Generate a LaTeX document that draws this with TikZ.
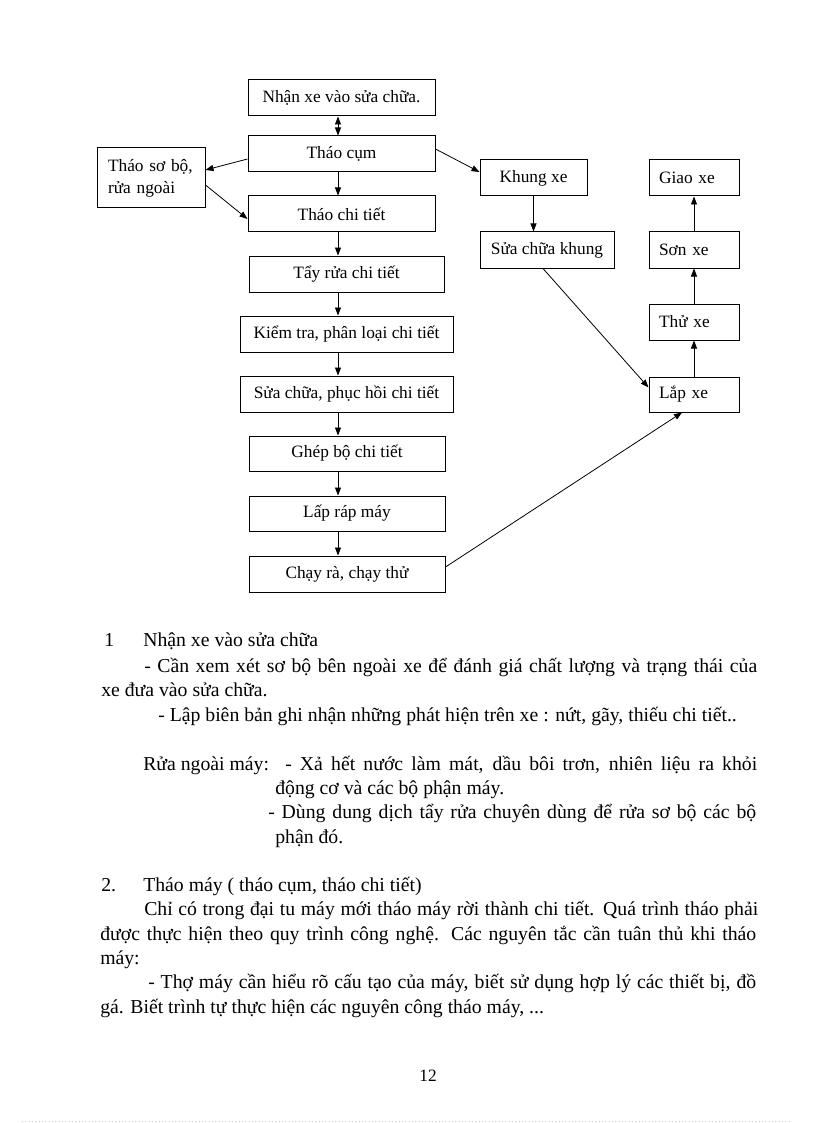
\documentclass[tikz,border=0pt]{standalone}
\usepackage{fontspec}
\setmainfont{Liberation Serif}
\usetikzlibrary{arrows.meta,calc}
\newcommand\bodyf{\fontsize{14.8}{17}\selectfont}
\newcommand\boxf{\fontsize{13}{16.5}\selectfont}
\begin{document}
\begin{tikzpicture}[x=0.75pt,y=-0.75pt,
  box/.style={draw, line width=0.75pt, inner sep=0pt, font=\boxf, align=center},
  sz/.style 2 args={minimum width=#1*0.75pt, minimum height=#2*0.75pt},
  rbox/.style={box, sz={90}{36}, align=left, text width=52.5pt, inner xsep=7.5pt},
  arr/.style={line width=0.6pt, >={Triangle[length=6pt,width=4.5pt]}, ->},
  txt/.style={anchor=base west, inner sep=0pt, font=\bodyf}]
\fill[white] (0,0) rectangle (816,1123);
\useasboundingbox (0,0) rectangle (816,1123);

% main column
\node[box,sz={187}{36}] (a1) at (341.5,98) {Nhận xe vào sửa chữa.};
\node[box,sz={187}{36}] (a2) at (341.5,154) {Tháo cụm};
\node[box,sz={108}{60}, align=left, text width=64.5pt, inner xsep=8.25pt] (b1) at (151,178) {Tháo sơ bộ,\\rửa ngoài};
\node[box,sz={187}{36}] (a3) at (341.5,214) {Tháo chi tiết};
\node[box,sz={195}{36}] (a4) at (346.5,274) {Tẩy rửa chi tiết};
\node[box,sz={213}{36}] (a5) at (346.5,334) {Kiểm tra, phân loại chi tiết};
\node[box,sz={213}{36}] (a6) at (346.5,394) {Sửa chữa, phục hồi chi tiết};
\node[box,sz={196}{35}] (a7) at (347,453.5) {Ghép bộ chi tiết};
\node[box,sz={196}{35}] (a8) at (347,513.5) {Lấp ráp máy};
\node[box,sz={196}{36}] (a9) at (347,574) {Chạy rà, chạy thử};
% frame column
\node[box,sz={107}{36}] (k1) at (533.5,178) {Khung xe};
\node[box,sz={134}{36}] (k2) at (547,250) {Sửa chữa khung};
% right column
\node[rbox] (r1) at (694,178) {Giao xe};
\node[rbox] (r2) at (694,250) {Sơn xe};
\node[rbox] (r3) at (694,322) {Thử xe};
\node[rbox, minimum height=26.25pt] (r4) at (694,394.5) {Lắp xe};

% connectors
\coordinate (cx) at (338,0);
\draw[arr,<->] (a1.south -| cx) -- (a2.north -| cx);
\foreach \u/\v in {a2/a3,a3/a4,a4/a5,a5/a6,a6/a7,a7/a8,a8/a9}
  \draw[arr] (\u.south -| cx) -- (\v.north -| cx);
\draw[arr] ($(a2.west)+(0,5)$) -- ($(b1.east)+(0,-8)$);
\draw[arr] ($(b1.east)+(0,7)$) -- ($(a3.west)+(0,5)$);
\draw[arr] ($(a2.east)+(0,-5)$) -- ($(k1.west)+(0,-6)$);
\draw[arr] (k1.south) -- (k1.south |- k2.north);
\draw[arr] ($(k2.south)+(-4,0)$) -- ($(r4.west)+(0,-7)$);
\draw[arr] ($(a9.east)+(0,-7)$) -- ($(r4.south)+(-12,0)$);
\draw[arr] (r4.north) -- (r3.south);
\draw[arr] (r3.north) -- (r2.south);
\draw[arr] (r2.north) -- (r1.south);

% text
\node[txt] (n1) at (104,646) {1};
\node[txt] (h1) at (143,646) {Nhận xe vào sửa chữa};
\node[txt] (p1) at (144,672) {\makebox[459.75pt][s]{- Cần xem xét sơ bộ bên ngoài xe để đánh giá chất lượng và trạng thái của}};
\node[txt] (p2) at (101,696) {xe đưa vào sửa chữa.};
\node[txt] (p3) at (158,721) {- Lập biên bản ghi nhận những phát hiện trên xe : nứt, gãy, thiếu chi tiết..};
\node[txt] (q0) at (143,770) {Rửa ngoài máy:};
\node[txt] (q1) at (285,770) {\makebox[354pt][s]{- Xả hết nước làm mát, dầu bôi trơn, nhiên liệu ra khỏi}};
\node[txt] (q2) at (275,794) {động cơ và các bộ phận máy.};
\node[txt] (q3) at (268,818) {\makebox[366pt][s]{- Dùng dung dịch tẩy rửa chuyên dùng để rửa sơ bộ các bộ}};
\node[txt] (q4) at (275,843) {phận đó.};
\node[txt] (n2) at (101,891) {2.};
\node[txt] (h2) at (143,891) {Tháo máy ( tháo cụm, tháo chi tiết)};
\node[txt] (s1) at (144,915) {\makebox[460.5pt][s]{Chỉ có trong đại tu máy mới tháo máy rời thành chi tiết. Quá trình tháo phải}};
\node[txt] (s2) at (100,940) {\makebox[492pt][s]{được thực hiện theo quy trình công nghệ. Các nguyên tắc cần tuân thủ khi tháo}};
\node[txt] (s3) at (100,964) {máy:};
\node[txt] (s4) at (148,988) {\makebox[456pt][s]{- Thợ máy cần hiểu rõ cấu tạo của máy, biết sử dụng hợp lý các thiết bị, đồ}};
\node[txt] (s5) at (100,1013) {gá. Biết trình tự thực hiện các nguyên công tháo máy, ...};
\node[anchor=base, inner sep=0pt, font=\fontsize{13}{15}\selectfont] (pg) at (428,1081) {12};
\draw[gray!40, dotted, line width=0.5pt] (22,1121) -- (792,1121);
\end{tikzpicture}
\end{document}
